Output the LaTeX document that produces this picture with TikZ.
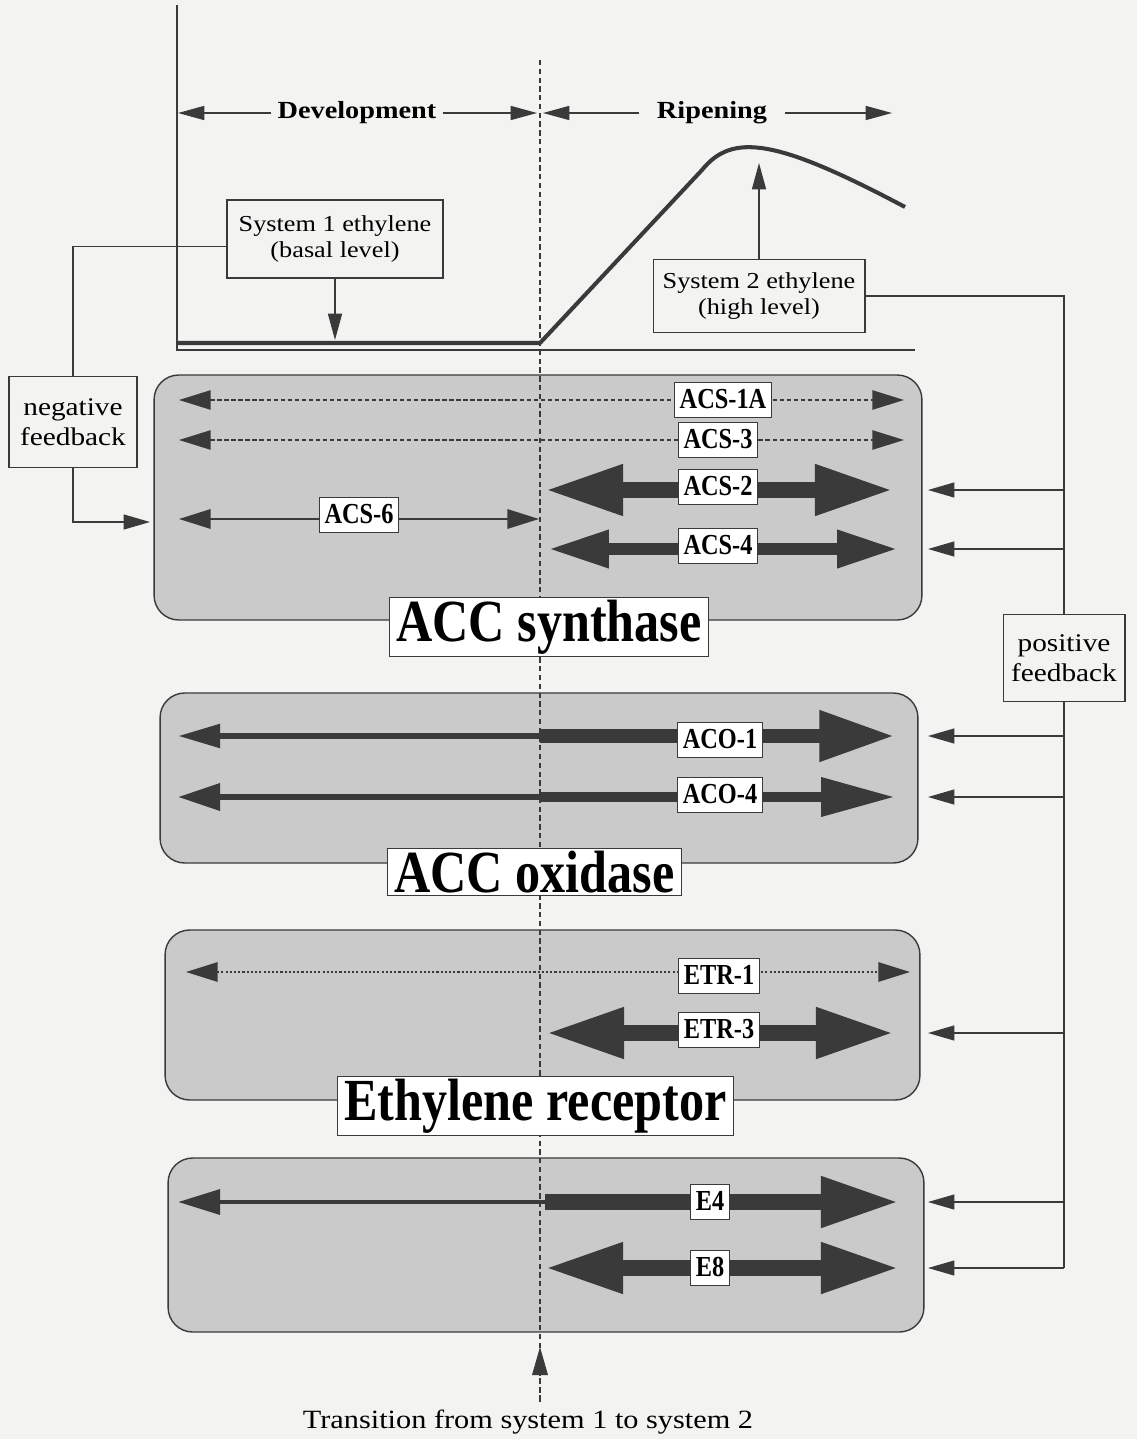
\documentclass[tikz,border=0pt]{standalone}
\usepackage{fontspec}
\setmainfont{Liberation Serif}[FakeStretch=1.15]
\newfontfamily\condfont{Liberation Serif}[FakeStretch=0.84]
\usetikzlibrary{arrows.meta}
\definecolor{paper}{RGB}{243,243,241}
\definecolor{ink}{RGB}{58,58,58}
\definecolor{shade}{RGB}{202,202,202}
\tikzset{
  panel/.style={draw=ink, line width=0.8pt, fill=shade, rounded corners=14pt, inner sep=0pt},
  txtbox/.style={draw=ink, line width=0.6pt, fill=paper, align=center, font=\fontsize{13}{15}\selectfont, inner sep=2pt},
  fbbox/.style={txtbox, font=\fontsize{14.5}{17}\selectfont},
  ttlbox/.style={draw=ink, line width=0.6pt, fill=white, font=\condfont\bfseries\fontsize{34}{36}\selectfont, inner xsep=4pt, inner ysep=1.5pt},
  gene/.style={draw=ink, line width=0.6pt, fill=white, font=\condfont\bfseries\fontsize{16.5}{18}\selectfont, inner xsep=3pt, inner ysep=3.5pt, text height=11.5pt, text depth=1.5pt},
  conn/.style={draw=ink, line width=0.8pt},
  fb/.style={conn, arrows={-Triangle[length=15pt,width=8.5pt]}},
  ptr/.style={conn, arrows={-Triangle[length=15pt,width=8pt]}},
  vline/.style={draw=ink, line width=0.6pt, dash pattern=on 3pt off 2pt},
  lowbar/.style={draw=ink, line width=0.8pt, arrows={Triangle[length=18pt,width=11pt]-Triangle[length=18pt,width=11pt]}},
  dashbar/.style={lowbar, dash pattern=on 2.5pt off 1.5pt},
  dotbar/.style={lowbar, line width=1.1pt, dash pattern=on 1.2pt off 1.2pt},
  midbar/.style={draw=ink, line width=6.8pt, arrows={Triangle[length=34.6pt,width=20pt]-Triangle[length=34.6pt,width=20pt]}},
  highbar/.style={draw=ink, line width=9.6pt, arrows={Triangle[length=45pt,width=26.6pt]-Triangle[length=45pt,width=26.6pt]}},
}
\begin{document}
\begin{tikzpicture}[x=0.02cm, y=-0.02cm]
  \fill[paper] (0,0) rectangle (1137,1439);
  \useasboundingbox (0,0) rectangle (1137,1439);
  \draw[conn] (177,5) -- (177,350) -- (915,350);
  \draw[draw=ink, line width=2.3pt, line join=round] (177,343) -- (540,343) -- (702,170) .. controls (732,133) and (775,138) .. (905,207);
  \node[panel, minimum width=15.36cm, minimum height=4.9cm] (synth) at (538,497.5) {};
  \node[panel, minimum width=15.16cm, minimum height=3.4cm] (oxid) at (539,778) {};
  \node[panel, minimum width=15.1cm, minimum height=3.4cm] (recep) at (542.5,1015) {};
  \node[panel, minimum width=15.12cm, minimum height=3.48cm] (late) at (546,1245) {};
  \node[font=\fontsize{15}{17}\selectfont] (trans) at (528,1422) {Transition from system 1 to system 2};
  \coordinate (vtop) at (540,60);
  \coordinate (vbot) at (540,1402);
  \coordinate (switch) at (540,1347);
  \draw[vline] (vtop) -- (vbot);
  \draw[vline, arrows={-Triangle[length=16pt,width=9pt]}] (vbot) -- (switch);
  \node[font=\bfseries\fontsize{14}{16}\selectfont] (dev) at (357,113) {Development};
  \node[font=\bfseries\fontsize{14}{16}\selectfont, inner xsep=10pt] (rip) at (712,113) {Ripening};
  \coordinate (devL) at (178,113);
  \coordinate (devR) at (537,113);
  \coordinate (ripL) at (543,113);
  \coordinate (ripR) at (892,113);
  \draw[ptr] (dev.west) -- (devL);
  \draw[ptr] (dev.east) -- (devR);
  \draw[ptr] (rip.west) -- (ripL);
  \draw[ptr] (rip.east) -- (ripR);
  \draw[dashbar] (179,400) -- (904,400);
  \draw[dashbar] (179,440) -- (904,440);
  \draw[highbar] (544,490) -- (894,490);
  \draw[lowbar, line width=1.2pt] (179,519) -- (539,519);
  \draw[midbar] (548,549) -- (898,549);
  \draw[draw=ink, line width=3.4pt, arrows={-Triangle[length=24pt,width=13pt]}] (540,736) -- (178,736);
  \draw[draw=ink, line width=8.5pt, arrows={-Triangle[length=43pt,width=27pt]}] (540,736) -- (895,736);
  \draw[draw=ink, line width=3.4pt, arrows={-Triangle[length=24pt,width=15pt]}] (540,797) -- (178,797);
  \draw[draw=ink, line width=5.7pt, arrows={-Triangle[length=42pt,width=21pt]}] (540,797) -- (895,797);
  \draw[dotbar] (186,972) -- (910,972);
  \draw[highbar] (545,1033) -- (895,1033);
  \draw[draw=ink, line width=2.8pt, arrows={-Triangle[length=24pt,width=14pt]}] (545,1202) -- (178,1202);
  \draw[draw=ink, line width=9.6pt, arrows={-Triangle[length=45pt,width=26.6pt]}] (545,1202) -- (900,1202);
  \draw[highbar] (544,1268) -- (900,1268);
  \node[gene] (acsonea) at (723,400) {ACS-1A};
  \node[gene] (acsthree) at (718,440) {ACS-3};
  \node[gene] (acstwo) at (718,487) {ACS-2};
  \node[gene] (acssix) at (359,515) {ACS-6};
  \node[gene] (acsfour) at (718,546) {ACS-4};
  \node[gene] (acoone) at (720,740) {ACO-1};
  \node[gene] (acofour) at (720,795) {ACO-4};
  \node[gene] (etrone) at (719,976) {ETR-1};
  \node[gene] (etrthree) at (719,1030) {ETR-3};
  \node[gene] (efour) at (710,1202) {E4};
  \node[gene] (eeight) at (710,1268) {E8};
  \node[ttlbox] (synthT) at (549,627) {ACC synthase};
  \node[ttlbox] (oxidT) at (534.5,872) {ACC oxidase};
  \node[ttlbox] (recepT) at (535.5,1106) {Ethylene receptor};
  \node[txtbox, minimum width=4.32cm, minimum height=1.56cm] (sysone) at (335,239) {System 1 ethylene\\(basal level)};
  \node[txtbox, minimum width=4.24cm, minimum height=1.46cm] (systwo) at (759,296) {System 2 ethylene\\(high level)};
  \coordinate (basal) at (335,340);
  \coordinate (peak) at (759,163);
  \draw[ptr] (sysone.south) -- (basal);
  \draw[ptr] (systwo.north) -- (peak);
  \node[fbbox, minimum width=2.56cm, minimum height=1.82cm] (negfb) at (73,422) {negative\\feedback};
  \node[fbbox, minimum width=2.44cm, minimum height=1.74cm] (posfb) at (1064,658) {positive\\feedback};
  \coordinate (negin) at (150,522);
  \draw[conn] (sysone.184) -| (negfb.north);
  \draw[fb] (negfb.south) |- (negin);
  \draw[conn] (systwo.east) -| (posfb.north);
  \foreach \y [count=\i] in {490,549,736,797,1033,1202,1268}
    \coordinate (fbin\i) at (928,\y);
  \draw[conn] (posfb.south) -- (posfb.south |- fbin7);
  \foreach \i in {1,...,7}
    \draw[fb] (posfb.south |- fbin\i) -- (fbin\i);
\end{tikzpicture}
\end{document}
